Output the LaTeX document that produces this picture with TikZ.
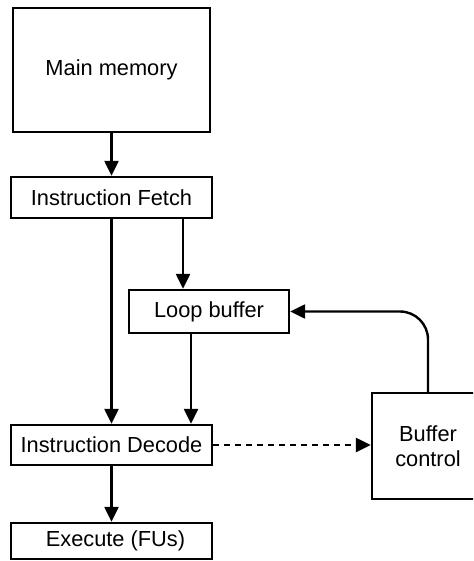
\documentclass[tikz,border=0pt]{standalone}
\usepackage{fontspec}
\setmainfont{Liberation Sans}
\usetikzlibrary{arrows.meta}
\begin{document}
\begin{tikzpicture}[x=1pt,y=-1pt,
  box/.style={draw,line width=2.4pt,inner sep=0pt,align=center,font=\fontsize{21.8}{24.5}\selectfont},
  arr/.style={line width=2.4pt,-{Triangle[length=15pt,width=14pt]}}]
\useasboundingbox (0,0) rectangle (473,561);
\clip (0,0) rectangle (473,561);
\node[box,minimum width=197pt,minimum height=124pt] (mm) at (111.5,70) {Main memory};
\node[box,minimum width=201pt,minimum height=41pt] (fetch) at (111.5,197.5) {Instruction Fetch};
\node[box,minimum width=160pt,minimum height=43pt] (loop) at (209,311.5) {Loop buffer};
\node[box,minimum width=201pt,minimum height=40pt] (decode) at (111.5,445) {Instruction Decode};
\node[box,minimum width=201pt,minimum height=36pt] (exec) at (111.5,541) {\hspace{8pt}Execute (FUs)};
\node[box,minimum width=112pt,minimum height=106pt] (bc) at (428,446) {Buffer\\control};
\draw[arr] (mm.south) -- (fetch.north);
\draw[arr] (fetch.south) -- (decode.north);
\draw[arr] ([xshift=71.5pt]fetch.south) -- ([xshift=71.5pt]fetch.south |- loop.north);
\draw[arr] ([xshift=-18pt]loop.south) -- ([xshift=-18pt]loop.south |- decode.north);
\draw[arr] (decode.south) -- (exec.north);
\draw[arr,dash pattern=on 6pt off 5pt] (decode.east) -- (decode.east -| bc.west);
\draw[arr,rounded corners=28pt] (bc.north) |- (loop.east);
\end{tikzpicture}
\end{document}
